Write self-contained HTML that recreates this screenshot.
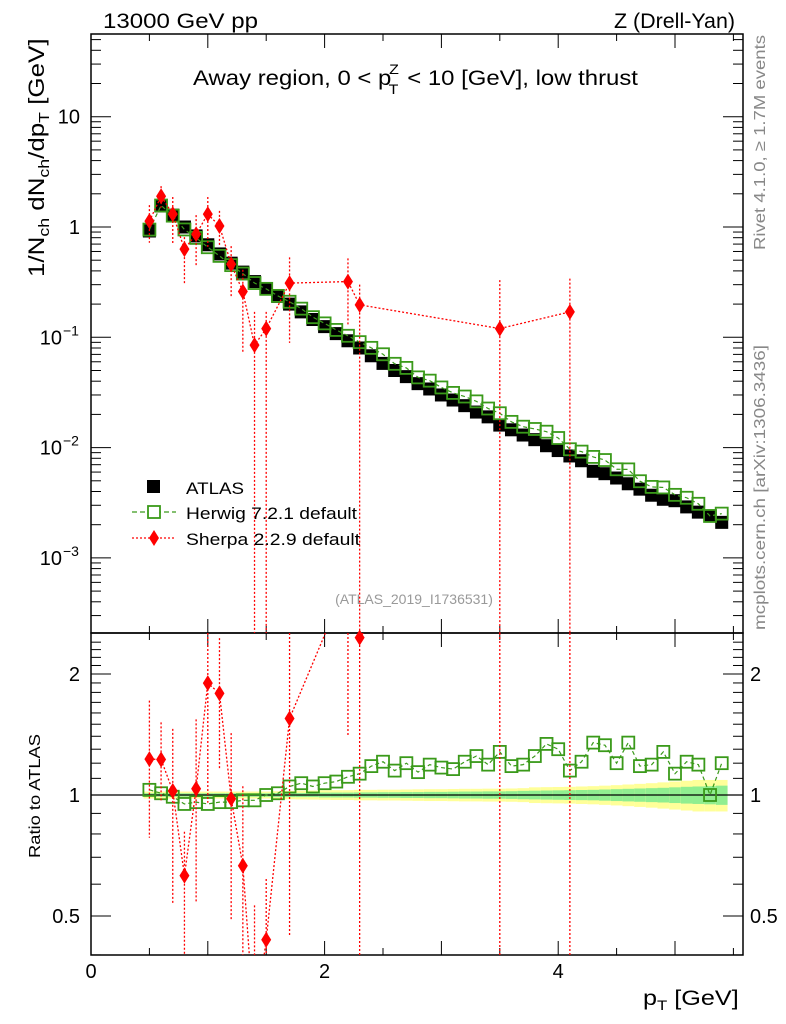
<!DOCTYPE html>
<html><head><meta charset="utf-8">
<style>
html,body{margin:0;padding:0;background:#fff;}
svg{display:block;font-family:"Liberation Sans",sans-serif;}
</style></head>
<body>
<svg id="chart" width="786" height="1024" viewBox="0 0 786 1024" xmlns="http://www.w3.org/2000/svg">
<text x="103" y="28" font-size="21" textLength="155" lengthAdjust="spacingAndGlyphs">13000 GeV pp</text>
<text x="614" y="28" font-size="21" textLength="121" lengthAdjust="spacingAndGlyphs">Z (Drell-Yan)</text>
<text x="193" y="85" font-size="21" transform="translate(193,0) scale(1.14,1) translate(-193,0)">Away region, 0 &lt; p<tspan font-size="14" dy="-11" dx="-2">Z</tspan><tspan font-size="14" dy="20" dx="-9">T</tspan><tspan dy="-9" dx="2"> &lt; 10 [GeV], low thrust</tspan></text>
<text transform="translate(765,35) rotate(-90)" font-size="16" fill="#888" text-anchor="end" textLength="215" lengthAdjust="spacingAndGlyphs">Rivet 4.1.0, ≥ 1.7M events</text>
<text transform="translate(765,630) rotate(-90)" font-size="16" fill="#888" textLength="285" lengthAdjust="spacingAndGlyphs">mcplots.cern.ch [arXiv:1306.3436]</text>
<text x="414" y="604" font-size="14" fill="#999" text-anchor="middle">(ATLAS_2019_I1736531)</text>
<text transform="translate(44,277) rotate(-90) scale(1.18,1)" font-size="22">1/N<tspan font-size="15" dy="5">ch</tspan><tspan dy="-5"> dN</tspan><tspan font-size="15" dy="5">ch</tspan><tspan dy="-5">/dp</tspan><tspan font-size="15" dy="5">T</tspan><tspan dy="-5"> [GeV]</tspan></text>
<text transform="translate(40,858) rotate(-90)" font-size="16" textLength="124" lengthAdjust="spacingAndGlyphs">Ratio to ATLAS</text>
<text transform="translate(643,1005) scale(1.2,1)" font-size="21">p<tspan font-size="14" dy="5">T</tspan><tspan dy="-5"> [GeV]</tspan></text>
<g id="band"></g>
<g id="grid"></g>
<g id="marks"></g>
<g id="legend">
 <rect x="147" y="480" width="13" height="13" fill="#000"/>
 <text x="186" y="494" font-size="17" textLength="58" lengthAdjust="spacingAndGlyphs">ATLAS</text>
 <line x1="132" y1="512" x2="176" y2="512" stroke="#3a9a1a" stroke-width="1.3" stroke-dasharray="5,3"/>
 <rect x="148" y="506" width="12" height="12" fill="#fff" stroke="#3a9a1a" stroke-width="1.8"/>
 <text x="186" y="519" font-size="17" textLength="171" lengthAdjust="spacingAndGlyphs">Herwig 7.2.1 default</text>
 <line x1="132" y1="538" x2="176" y2="538" stroke="red" stroke-width="1.3" stroke-dasharray="2,2"/>
 <path d="M154 530 L159 538 L154 546 L149 538 Z" fill="red"/>
 <text x="186" y="545" font-size="17" textLength="174" lengthAdjust="spacingAndGlyphs">Sherpa 2.2.9 default</text>
</g>
</svg>
<script>
const xs = [0.5,0.6,0.7,0.8,0.9,1.0,1.1,1.2,1.3,1.4,1.5,1.6,1.7,1.8,1.9,2.0,2.1,2.2,2.3,2.4,2.5,2.6,2.7,2.8,2.9,3.0,3.1,3.2,3.3,3.4,3.5,3.6,3.7,3.8,3.9,4.0,4.1,4.2,4.3,4.4,4.5,4.6,4.7,4.8,4.9,5.0,5.1,5.2,5.3,5.4];
const atlas = [0.92,1.55,1.28,1.0,0.83,0.69,0.57,0.47,0.39,0.32,0.275,0.235,0.2,0.17,0.145,0.125,0.108,0.093,0.08,0.068,0.058,0.05,0.044,0.038,0.034,0.030,0.027,0.024,0.021,0.019,0.016,0.0145,0.013,0.0118,0.0104,0.0094,0.0084,0.0076,0.0061,0.0058,0.0053,0.0047,0.0042,0.0037,0.0034,0.0033,0.0029,0.0026,0.0024,0.0021];
const herwigRatio = [1.03,1.01,0.99,0.95,0.96,0.95,0.96,0.96,0.97,0.97,1.0,1.01,1.05,1.07,1.05,1.07,1.08,1.11,1.13,1.18,1.21,1.15,1.20,1.14,1.19,1.17,1.16,1.21,1.25,1.19,1.28,1.18,1.19,1.25,1.34,1.30,1.15,1.21,1.35,1.33,1.20,1.35,1.18,1.19,1.28,1.13,1.21,1.19,1.0,1.2];
const bandStat = [0.01,0.01,0.01,0.01,0.01,0.01,0.01,0.01,0.01,0.01,0.01,0.012,0.012,0.012,0.012,0.014,0.014,0.014,0.015,0.015,0.016,0.016,0.017,0.017,0.018,0.018,0.019,0.02,0.02,0.021,0.021,0.022,0.024,0.025,0.026,0.027,0.028,0.029,0.03,0.032,0.034,0.036,0.038,0.04,0.042,0.045,0.048,0.05,0.052,0.055];
const bandTot = [0.02,0.02,0.02,0.02,0.02,0.02,0.02,0.02,0.02,0.02,0.02,0.022,0.024,0.025,0.026,0.027,0.028,0.028,0.03,0.03,0.031,0.031,0.032,0.033,0.034,0.034,0.035,0.036,0.036,0.037,0.037,0.038,0.04,0.045,0.046,0.047,0.048,0.05,0.052,0.055,0.058,0.062,0.066,0.07,0.075,0.08,0.085,0.09,0.09,0.09];
const sherpaX = [0.5,0.6,0.7,0.8,0.9,1.0,1.1,1.2,1.3,1.4,1.5,1.7,2.2,2.3,3.5,4.1];
const sherpa = [1.13,1.9,1.31,0.63,0.86,1.31,1.02,0.46,0.26,0.085,0.12,0.31,0.32,0.197,0.12,0.17];
const sherpaLo = [0.72,1.5,0.69,0.30,0.45,0.66,0.66,0.23,0.074,0,0,0.089,0.13,0,0,0];
const sherpaHi = [1.58,2.35,1.87,0.81,1.28,1.87,1.4,0.67,0.41,0.17,0.17,0.53,0.52,0.3,0.33,0.34];
const xTicks = [0,2,4];
const mainTicks = [10,1,0.1,0.01,0.001];
const mainTickLabels = ['10','1','10','10','10'];
const mainTickExp = ['','','−1','−2','−3'];
const ratioTicks = [2,1,0.5];
const ratioTickLabels = ['2','1','0.5'];

const L=91,R=743,T=34,MB=633,RB=955;
const NS="http://www.w3.org/2000/svg";
const X=v=>L+v*116.8;
const Y=v=>227-110.3*Math.log10(v);
const YR=v=>795-121*Math.log2(v);
function mk(tag,attrs,parent){const e=document.createElementNS(NS,tag);for(const k in attrs)e.setAttribute(k,attrs[k]);(parent||document.getElementById('marks')).appendChild(e);return e;}
const grid=document.getElementById('grid'), marks=document.getElementById('marks'), band=document.getElementById('band');
const clipMain=v=>Math.max(T,Math.min(MB,v)), clipR=v=>Math.max(MB,Math.min(RB,v));

xs.forEach((x,i)=>{
 const x0=X(x-0.05),x1=X(x+0.05);
 const r1=mk('rect',{x:x0,y:YR(1+bandTot[i]),width:x1-x0,height:YR(1-bandTot[i])-YR(1+bandTot[i]),fill:'#ffff99'},band);
 
 
 const r2=mk('rect',{x:x0,y:YR(1+bandStat[i]),width:x1-x0,height:YR(1-bandStat[i])-YR(1+bandStat[i]),fill:'#90ee90'},band);
 
 
});

mk('rect',{x:L,y:T,width:R-L,height:MB-T,fill:'none',stroke:'#000','stroke-width':1.5},grid);
mk('rect',{x:L,y:MB,width:R-L,height:RB-MB,fill:'none',stroke:'#000','stroke-width':1.5},grid);
mk('line',{x1:L,x2:R,y1:YR(1),y2:YR(1),stroke:'#000','stroke-width':1.2},grid);
for(let v=0;v<=5.5;v+=0.5){
 const len=(Math.abs(v-Math.round(v))<1e-6)?14:7;
 [[T,1],[MB,-1],[MB,1],[RB,-1]].forEach(([y0,d])=>mk('line',{x1:X(v),x2:X(v),y1:y0,y2:y0+d*len,stroke:'#000'},grid));
}
xTicks.forEach(v=>{const t=mk('text',{x:X(v),y:978,'font-size':20,'text-anchor':'middle'},grid);t.textContent=v;
 
 });
for(let e=-4;e<=1;e++){for(let m=1;m<10;m++){const v=m*Math.pow(10,e);const y=Y(v);if(y<T||y>MB)continue;const len=m==1?20:10;
 mk('line',{x1:L,x2:L+len,y1:y,y2:y,stroke:'#000'},grid);mk('line',{x1:R,x2:R-len,y1:y,y2:y,stroke:'#000'},grid);}}
mainTicks.forEach((v,i)=>{const t=mk('text',{x:mainTickExp[i]?62:80,y:Y(v)+7,'font-size':20,'text-anchor':'end'},grid);t.textContent=mainTickLabels[i];
 
 
 if(mainTickExp[i]){const s=mk('text',{x:63,y:Y(v)-2,'font-size':14},grid);s.textContent=mainTickExp[i];}});
for(let v=0.4;v<=2.5;v+=0.1){const y=YR(v);if(y<MB||y>RB)continue;const maj=[0.5,1,2].some(a=>Math.abs(a-v)<1e-6);const len=maj?20:10;
 mk('line',{x1:L,x2:L+len,y1:y,y2:y,stroke:'#000'},grid);mk('line',{x1:R,x2:R-len,y1:y,y2:y,stroke:'#000'},grid);}
ratioTicks.forEach((v,i)=>{[[80,'end'],[750,'start']].forEach(([x,a])=>{const t=mk('text',{x:x,y:YR(v)+7,'font-size':20,'text-anchor':a},grid);t.textContent=ratioTickLabels[i];
 
 });});

xs.forEach((x,i)=>{const r=mk('rect',{x:X(x)-6.5,y:Y(atlas[i])-6.5,width:13,height:13,fill:'#000'});
 
 });
const hw=xs.map((x,i)=>atlas[i]*herwigRatio[i]);
mk('polyline',{points:xs.map((x,i)=>X(x)+','+Y(hw[i])).join(' '),fill:'none',stroke:'#3a9a1a','stroke-width':1.2,'stroke-dasharray':'4,3'});
xs.forEach((x,i)=>{const r=mk('rect',{x:X(x)-6,y:Y(hw[i])-6,width:12,height:12,fill:'none',stroke:'#3a9a1a','stroke-width':1.8});
 
 });
mk('polyline',{points:xs.map((x,i)=>X(x)+','+YR(herwigRatio[i])).join(' '),fill:'none',stroke:'#3a9a1a','stroke-width':1.2,'stroke-dasharray':'4,3'});
xs.forEach((x,i)=>{const r=mk('rect',{x:X(x)-6,y:YR(herwigRatio[i])-6,width:12,height:12,fill:'none',stroke:'#3a9a1a','stroke-width':1.8});
 
 });
mk('polyline',{points:sherpaX.map((x,i)=>X(x)+','+clipMain(Y(sherpa[i]))).join(' '),fill:'none',stroke:'red','stroke-width':1.3,'stroke-dasharray':'2,2'});
sherpaX.forEach((x,i)=>{
 const yl=sherpaLo[i]>0?Y(sherpaLo[i]):MB;
 mk('line',{x1:X(x),x2:X(x),y1:clipMain(Y(sherpaHi[i])),y2:clipMain(yl),stroke:'red','stroke-width':1.3,'stroke-dasharray':'2,2'});
 const cx=X(x),cy=Y(sherpa[i]);
 const d=mk('path',{d:`M${cx} ${cy-8} L${cx+5} ${cy} L${cx} ${cy+8} L${cx-5} ${cy} Z`,fill:'red'});
 
 
});
const sIdx=sherpaX.map(x=>xs.findIndex(v=>Math.abs(v-x)<1e-6));
const sr=sherpa.map((v,i)=>v/atlas[sIdx[i]]);
mk('polyline',{points:sherpaX.map((x,i)=>X(x)+','+YR(sr[i])).join(' '),fill:'none',stroke:'red','stroke-width':1.3,'stroke-dasharray':'2,2','clip-path':'url(#rclip)'});
const cp=mk('clipPath',{id:'rclip'},document.getElementById('chart'));mk('rect',{x:L,y:MB,width:R-L,height:RB-MB},cp);
sherpaX.forEach((x,i)=>{
 const a=atlas[sIdx[i]];
 const yl=sherpaLo[i]>0?YR(sherpaLo[i]/a):RB;
 mk('line',{x1:X(x),x2:X(x),y1:clipR(YR(sherpaHi[i]/a)),y2:clipR(yl),stroke:'red','stroke-width':1.3,'stroke-dasharray':'2,2'});
 const cy=YR(sr[i]);if(cy<MB-2||cy>RB+2)return;
 const cx=X(x);
 const d=mk('path',{d:`M${cx} ${cy-8} L${cx+5} ${cy} L${cx} ${cy+8} L${cx-5} ${cy} Z`,fill:'red'});
 
 
});
</script>
</body></html>
